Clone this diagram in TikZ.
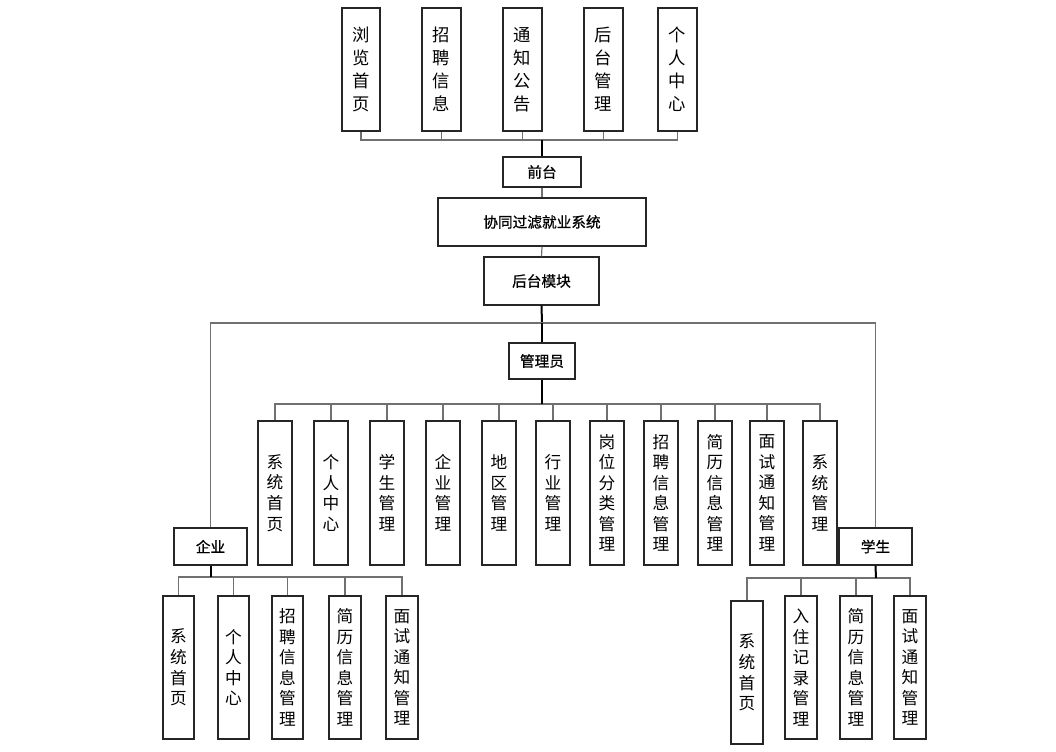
\documentclass[tikz,border=0pt]{standalone}
\usepackage{fontspec}
\newfontfamily\cjk{Noto Sans CJK SC}
\newfontfamily\cjkb[FakeBold=0.8]{Noto Sans CJK SC}
\definecolor{linegray}{HTML}{707070}
\tikzset{
  box/.style={draw=black!85, line width=1pt, fill=white, inner sep=0pt, align=center},
  vtext/.style={font=\cjk\fontsize{12.5}{15.4}\selectfont},
  vtop/.style={font=\cjk\fontsize{13}{17.25}\selectfont},
  htext/.style={font=\cjkb\fontsize{11}{13}\selectfont},
  conn/.style={draw=linegray, line width=0.9pt},
  stem/.style={draw=black, line width=1.5pt},
  blk/.style={draw=black, line width=0.9pt}
}
\newcommand{\bx}[7][vtext]{%
  \pgfmathsetmacro\bw{(#5-#3)*0.75}\pgfmathsetmacro\bh{(#6-#4)*0.75}%
  \node[box,#1,minimum width=\bw pt,minimum height=\bh pt] (#2) at ({(#3+#5)/2},{(#4+#6)/2}) {#7};}
\begin{document}
\begin{tikzpicture}[x=0.75pt,y=-0.75pt]
\useasboundingbox (0,0) rectangle (1056,751);
% top level
\bx[vtop]{t1}{342}{8}{380}{131}{浏\\览\\首\\页}
\bx[vtop]{t2}{422}{8}{461}{131}{招\\聘\\信\\息}
\bx[vtop]{t3}{503}{8}{542}{131}{通\\知\\公\\告}
\bx[vtop]{t4}{584}{8}{623}{131}{后\\台\\管\\理}
\bx[vtop]{t5}{658}{8}{697}{131}{个\\人\\中\\心}
\bx[htext]{qt}{503}{157}{581}{187}{前台}
\bx[htext]{sys}{438}{198}{646}{246}{协同过滤就业系统}
\bx[htext]{ht}{484}{257}{599}{305}{后台模块}
\bx[htext]{gly}{509}{343}{575}{379}{管理员}
\bx[htext]{qy}{174}{528}{247}{565}{企业}
\bx[htext]{xs}{839}{528}{912}{565}{学生}
% admin children
\bx{a1}{258}{421}{292}{565}{系\\统\\首\\页}
\bx{a2}{314}{421}{348}{565}{个\\人\\中\\心}
\bx{a3}{370}{421}{404}{565}{学\\生\\管\\理}
\bx{a4}{426}{421}{460}{565}{企\\业\\管\\理}
\bx{a5}{482}{421}{516}{565}{地\\区\\管\\理}
\bx{a6}{536}{421}{570}{565}{行\\业\\管\\理}
\bx{a7}{590}{421}{624}{565}{岗\\位\\分\\类\\管\\理}
\bx{a8}{644}{421}{678}{565}{招\\聘\\信\\息\\管\\理}
\bx{a9}{698}{421}{732}{565}{简\\历\\信\\息\\管\\理}
\bx{a10}{750}{421}{784}{565}{面\\试\\通\\知\\管\\理}
\bx{a11}{803}{421}{837}{565}{系\\统\\管\\理}
% enterprise children
\bx{e1}{163}{596}{194}{739}{系\\统\\首\\页}
\bx{e2}{218}{596}{249}{739}{个\\人\\中\\心}
\bx{e3}{272}{596}{303}{739}{招\\聘\\信\\息\\管\\理}
\bx{e4}{329}{596}{361}{739}{简\\历\\信\\息\\管\\理}
\bx{e5}{386}{596}{418}{739}{面\\试\\通\\知\\管\\理}
% student children
\bx{s1}{731}{601}{763}{744}{系\\统\\首\\页}
\bx{s2}{785}{596}{817}{739}{入\\住\\记\\录\\管\\理}
\bx{s3}{840}{596}{872}{739}{简\\历\\信\\息\\管\\理}
\bx{s4}{894}{596}{926}{739}{面\\试\\通\\知\\管\\理}
% bus coordinates
\coordinate (tb) at (542,140);
\coordinate (hb) at (542,323);
\coordinate (ab) at (542,404);
\coordinate (eb) at (210.5,577);
\coordinate (sb) at (876,578);
% top connectors
\foreach \n in {t1,t2,t3,t4,t5} \draw[conn] (\n.south) |- (tb);
\draw[stem] (tb) -- (qt.north);
\draw[conn] (qt.south) -- (sys.north);
\draw[conn] (sys.south) -- (ht.north);
\draw[stem] (ht.south) -- (hb);
\draw[conn] (qy.north) |- (hb);
\draw[conn] (xs.north) |- (hb);
\draw[blk] (hb) -- (gly.north);
% admin
\foreach \n in {a1,a2,a3,a4,a5,a6,a7,a8,a9,a10,a11} \draw[conn] (\n.north) |- (ab);
\draw[blk] (gly.south) -- (ab);
% enterprise
\foreach \n in {e1,e2,e3,e4,e5} \draw[conn] (\n.north) |- (eb);
\draw[stem] (qy.south) -- (eb);
% student
\foreach \n in {s1,s2,s3,s4} \draw[conn] (\n.north) |- (sb);
\draw[stem] (xs.south) -- (sb);
\end{tikzpicture}
\end{document}
